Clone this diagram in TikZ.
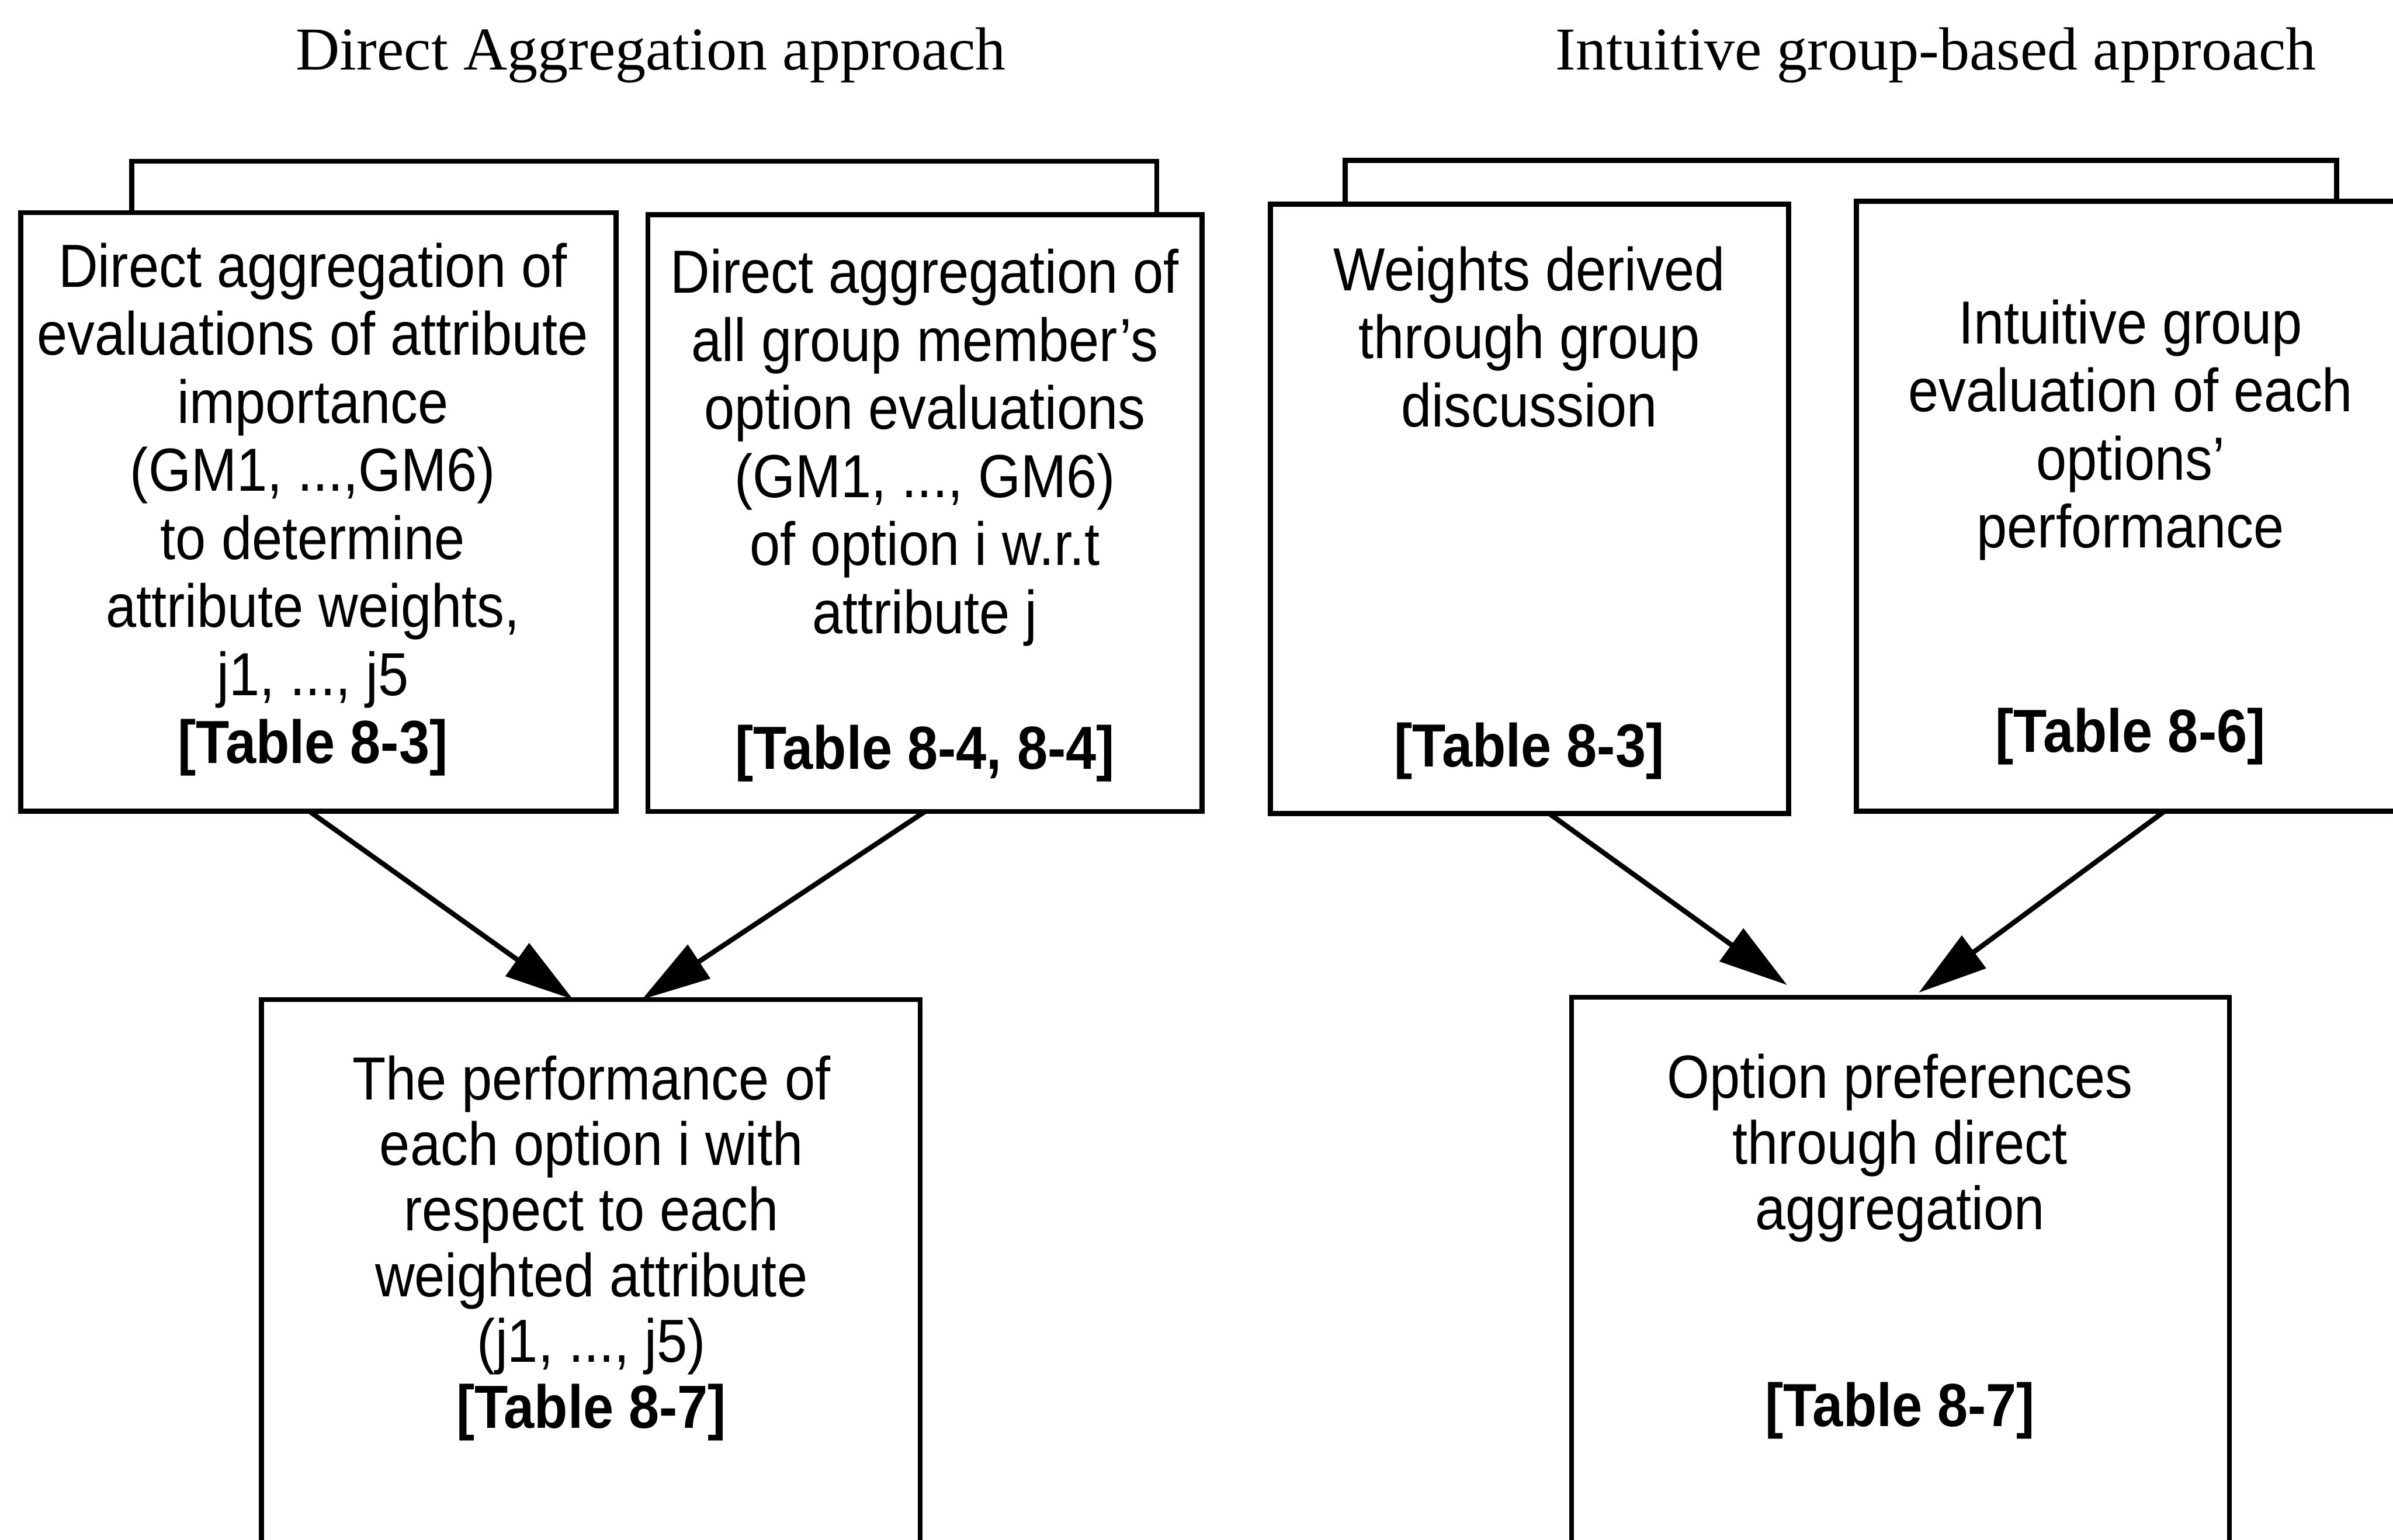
\documentclass[tikz,border=0pt]{standalone}
\usepackage{fontspec}
\setmainfont{Liberation Serif}
\newfontfamily\boxfont{Liberation Sans}[FakeStretch=0.9]
\usetikzlibrary{arrows.meta,calc,fit}

\begin{document}
\begin{tikzpicture}[x=0.02cm,y=-0.02cm,
  line width=1.85pt,
  panel/.style={draw, line width=1.85pt, inner sep=0pt, outer sep=0pt},
  upper/.style={anchor=north, inner sep=0pt, align=center,
    font=\boxfont\fontsize{22.7}{25.37}\selectfont},
  lower/.style={anchor=north, inner sep=0pt, align=center,
    font=\boxfont\fontsize{22.7}{24.48}\selectfont},
  heading/.style={anchor=base, inner sep=0pt, font=\fontsize{22.7}{27}\selectfont},
  flow/.style={-{Triangle[length=0.9cm,width=0.52cm]}, line width=1.85pt},
  bracket/.style={line width=1.85pt, line join=miter}
]
\useasboundingbox (0,0) rectangle (1568,1009);
\clip (0,0) rectangle (1568,1009);

% headings
\node[heading] (h1) at (426.5,45.6) {Direct Aggregation approach};
\node[heading] (h2) at (1268.5,45.6) {Intuitive group-based approach};

% upper boxes
\node[panel, fit={(13.5,139.4) (403.7,531.5)}] (A) {};
\node[panel, fit={(424.6,140.7) (787.7,531.7)}] (B) {};
\node[panel, fit={(832.4,133.8) (1172,533)}] (C) {};
\node[panel, fit={(1216.4,131.9) (1576,531.6)}] (D) {};

% lower boxes (run past the lower edge)
\node[panel, fit={(171.4,654.9) (603,1040)}] (E) {};
\node[panel, fit={(1029.8,653.4) (1460.7,1040)}] (F) {};

% box texts
\node[upper] (At) at (205,155.3) {\strut Direct aggregation of\\
  evaluations of attribute\\ importance\\ (GM1, ...,GM6)\\ to determine\\
  attribute weights,\\ j1, ..., j5\\ \textbf{[Table 8-3]}};
\node[upper] (Bt) at (606,159.3) {\strut Direct aggregation of\\
  all group member’s\\ option evaluations\\ (GM1, ..., GM6)\\
  of option i w.r.t\\ attribute j\\ \strut\\ \textbf{[Table 8-4, 8-4]}};
\node[upper] (Ct) at (1002,157.6) {\strut Weights derived\\ through group\\
  discussion\\ \strut\\ \strut\\ \strut\\ \strut\\ \textbf{[Table 8-3]}};
\node[upper] (Dt) at (1396,192.4) {\strut Intuitive group\\
  evaluation of each\\ options’\\ performance\\ \strut\\ \strut\\
  \textbf{[Table 8-6]}};
\node[lower] (Et) at (387.5,688.8) {\strut The performance of\\
  each option i with\\ respect to each\\ weighted attribute\\
  (j1, ..., j5)\\ \textbf{[Table 8-7]}};
\node[lower] (Ft) at (1245,687.8) {\strut Option preferences\\
  through direct\\ aggregation\\ \strut\\ \strut\\ \textbf{[Table 8-7]}};

% brackets joining each pair of upper boxes
\coordinate (lb1) at (86.4,105.6);
\coordinate (lb2) at (758,105.6);
\coordinate (rb1) at (881.4,105);
\coordinate (rb2) at (1531,105);
\draw[bracket] (lb1 |- A.north) -- (lb1) -- (lb2) -- (lb2 |- B.north);
\draw[bracket] (rb1 |- C.north) -- (rb1) -- (rb2) -- (rb2 |- D.north);

% arrow tips on the lower boxes
\coordinate (tA) at ($(E.north)+(-11.7,0)$);
\coordinate (tB) at ($(E.north)+(33.4,0)$);
\coordinate (tC) at ($(F.north)+(-74.3,-8)$);
\coordinate (tD) at ($(F.north)+(12,-3)$);

% connectors
\draw[flow] ($(A.south)+(-6,0)$) -- (tA);
\draw[flow] (B.south) -- (tB);
\draw[flow] ($(C.south)+(12.8,0)$) -- (tC);
\draw[flow] ($(D.south)+(22,0)$) -- (tD);
\end{tikzpicture}
\end{document}
